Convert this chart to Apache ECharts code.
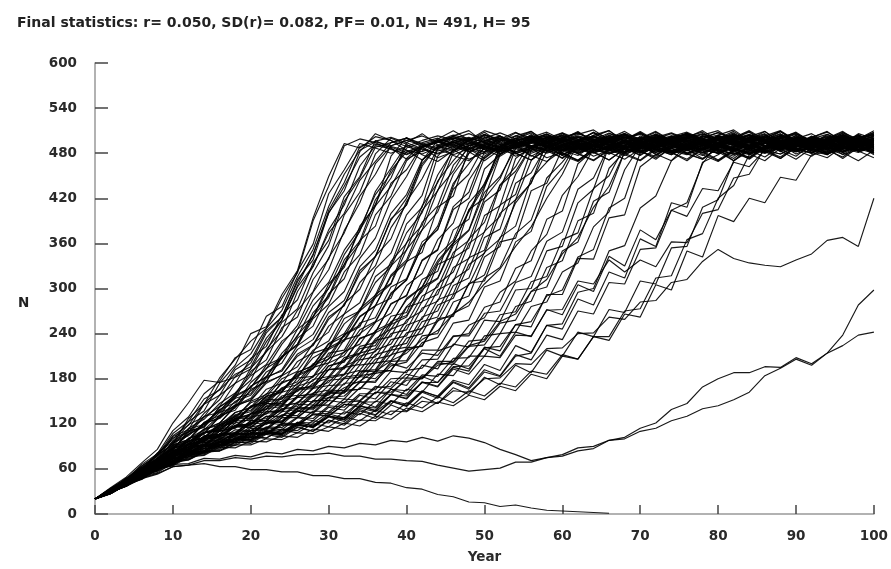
<!DOCTYPE html>
<html>
<head>
<meta charset="utf-8">
<script src="https://cdn.jsdelivr.net/npm/echarts@6/dist/echarts.min.js"></script>
<style>
html,body{margin:0;padding:0;background:#fff;}
#chart{width:891px;height:569px;}
</style>
</head>
<body>
<div id="chart"></div>
<script>
const titleText = "Final statistics: r= 0.050, SD(r)= 0.082, PF= 0.01, N= 491, H= 95";
const xName = "Year";
const yName = "N";

const years = [0,2,4,6,8,10,12,14,16,18,20,22,24,26,28,30,32,34,36,38,40,42,44,46,48,50,
  52,54,56,58,60,62,64,66,68,70,72,74,76,78,80,82,84,86,88,90,92,94,96,98,100];

// runs reaching the ceiling early (about years 32-42)
const runsFast = [
[20,31,47,58,81,99,123,137,174,198, 240,249,292,324,394,449,493,487,502,497, 489,482,491,499,506,498,488,480,486,495, 501,494,487,492,500,505,496,484,479,489, 497,503,495,486,490,499,493,481,488,496, 502],
[20,29,45,56,77,93,127,146,181,206, 230,247,287,321,390,436,490,499,494,485, 479,488,497,504,499,490,484,493,501,508, 498,487,481,490,496,492,485,478,487,495, 503,497,489,494,500,486,480,491,498,492, 488],
[20,32,43,59,70,97,109,134,152,183, 201,241,262,309,344,404,441,489,496,501, 494,486,479,485,493,500,507,499,490,483, 488,496,502,495,487,481,490,498,504,497, 489,484,478,487,494,501,496,488,493,499, 505],
[20,34,46,66,80,111,129,160,177,208, 219,263,276,323,359,426,458,493,487,480, 489,497,503,498,491,485,492,500,496,488, 479,486,494,506,501,492,484,490,497,493, 485,478,488,496,503,499,490,486,494,500, 491],
[20,29,43,54,72,86,109,117,142,158, 194,216,255,273,321,357,416,447,488,494, 500,492,485,478,486,495,502,496,489,494, 501,507,498,489,483,490,497,492,486,480, 488,495,501,497,490,484,492,499,504,496, 489],
[20,30,39,54,66,89,98,121,137,160, 178,219,244,296,329,378,411,463,490,486, 478,487,495,500,493,487,482,490,499,505, 497,491,485,494,502,496,488,481,489,498, 493,486,479,488,496,503,498,491,485,492, 499],
[20,32,44,60,72,95,106,129,143,174, 186,216,236,271,296,341,374,423,452,490, 497,491,483,489,496,504,499,492,486,480, 487,495,501,496,490,484,491,499,506,500, 492,486,482,489,497,493,487,494,501,496, 490],
[20,28,40,51,68,78,100,112,131,145, 175,193,226,251,295,325,377,414,466,489, 484,479,488,496,501,494,487,492,499,505, 497,490,483,488,495,500,493,486,480,487, 494,502,498,491,485,490,496,503,497,489, 483],
[20,31,46,59,78,94,114,126,147,161, 184,199,230,246,285,308,351,380,425,453, 487,494,500,492,485,479,488,496,503,498, 491,486,493,500,506,497,489,483,490,497, 501,495,488,481,487,494,499,493,486,491, 498],
[20,29,43,54,70,82,100,108,129,141, 170,183,214,236,277,300,345,376,429,460, 491,485,480,489,497,502,495,488,494,500, 507,499,490,484,479,486,493,498,491,485, 490,497,504,496,489,483,488,495,501,494, 487],
[20,34,46,64,78,107,123,153,165,186, 196,234,258,302,330,374,400,444,469,494, 500,493,486,491,498,505,497,489,482,488, 495,501,494,487,481,490,497,503,498,490, 484,479,487,494,500,495,489,486,493,499, 504],
[20,35,49,68,86,121,148,178,175,182, 193,229,258,304,346,400,436,475,492,488, 481,489,496,502,497,490,484,479,487,494, 500,506,499,491,486,492,498,494,487,481, 489,496,503,497,490,485,491,498,494,488, 482],
[20,33,45,63,77,104,118,147,166,195, 213,247,271,316,352,409,452,484,495,490, 497,503,495,488,482,490,498,494,487,493, 499,492,485,479,486,494,501,507,499,491, 486,493,499,495,488,482,489,496,502,497, 493],
[20,30,45,55,74,88,106,119,138,156, 168,194,207,238,262,301,332,378,412,457, 482,490,496,491,485,493,500,496,490,484, 478,486,495,501,497,489,494,502,508,499, 493,487,481,488,495,491,486,494,500,496, 490],
[20,33,41,62,73,103,112,146,158,192, 205,244,262,312,338,401,430,482,506,497, 484,471,488,503,510,494,479,490,501,486, 473,489,498,507,495,482,476,491,504,498, 485,470,483,497,509,496,487,479,492,502, 495],
[20,30,46,53,75,85,111,115,143,154, 190,205,248,262,312,339,398,428,479,500, 492,478,469,484,498,510,503,489,476,487, 499,508,496,481,472,486,500,493,480,491, 504,511,497,484,475,489,498,486,473,488, 500],
[20,31,42,58,69,91,99,122,131,158, 168,198,208,246,262,306,328,383,410,476, 501,488,474,482,497,508,494,480,471,485, 496,505,511,498,486,478,490,502,493,481, 470,484,499,506,492,479,488,500,509,496, 483],
[20,28,44,51,70,79,101,106,131,138, 166,176,210,226,268,290,338,363,418,447, 494,506,491,477,470,486,499,508,497,483, 474,488,502,510,495,482,490,503,492,478, 469,483,497,505,493,486,480,494,507,499, 487],
[20,32,48,60,81,96,119,129,158,174, 207,223,265,285,334,364,422,449,497,487, 472,483,499,510,498,485,476,489,503,495, 481,470,486,500,509,497,484,492,505,494, 479,488,501,496,483,472,487,499,508,492, 480],
[20,30,40,55,64,83,89,108,114,135, 142,166,174,203,215,250,266,308,330,381, 412,470,497,485,472,481,496,507,500,488, 477,491,504,510,496,483,474,487,501,493, 482,470,486,498,506,495,481,490,503,497, 484]
];

// runs reaching the ceiling around years 42-52
const runsMid = [
[20,31,41,56,66,87,94,113,121,144, 154,181,192,224,239,276,296,340,367,418, 449,489,495,490,483,488,496,503,497,490, 485,480,488,495,501,496,489,493,500,506, 498,491,485,489,496,492,486,480,487,494, 499],
[20,30,45,57,74,88,106,116,135,143, 164,177,208,226,263,288,332,360,410,436, 473,492,498,494,487,481,489,497,503,496, 490,485,492,499,495,488,482,486,494,501, 507,500,493,487,490,497,492,485,479,488, 495],
[20,28,41,51,66,76,92,100,119,127, 150,159,184,196,227,242,280,299,343,366, 416,446,487,493,499,495,488,482,490,498, 504,497,490,485,491,496,489,483,478,486, 494,500,496,489,493,501,495,487,492,498, 491],
[20,33,45,62,74,94,104,121,127,145, 151,174,185,210,224,259,278,320,343,391, 420,466,489,484,490,497,503,495,488,492, 499,494,486,480,487,495,500,493,489,496, 502,497,490,484,479,488,495,491,486,493, 500],
[20,29,42,52,67,78,94,102,119,125, 143,151,174,183,208,220,253,270,308,329, 374,401,451,484,490,496,502,494,487,481, 489,497,493,486,491,499,505,498,490,485, 480,488,496,501,494,489,493,499,496,487, 483],
[20,29,37,51,61,76,84,98,106,125, 133,154,162,188,198,227,240,273,291,336, 360,410,441,487,494,489,482,488,495,500, 494,487,481,486,493,500,497,491,485,490, 498,503,496,489,484,491,497,493,487,481, 489],
[20,32,42,57,68,88,96,113,118,135, 141,160,165,186,194,221,232,263,277,316, 335,378,402,452,480,492,498,490,484,490, 496,503,498,491,486,480,487,494,500,495, 489,484,491,498,505,497,490,486,493,499, 494],
[20,30,44,54,70,78,92,98,115,123, 143,149,168,176,200,210,239,251,288,306, 352,378,431,456,491,486,480,488,495,501, 496,489,483,490,497,493,486,481,488,495, 502,498,491,485,492,499,495,488,483,490, 497],
[20,28,41,50,64,74,90,96,110,115, 133,139,157,163,184,192,216,226,255,267, 304,320,365,387,444,476,490,496,501,494, 487,481,489,497,492,486,493,500,506,498, 491,485,480,488,495,499,493,487,494,500, 496],
[20,33,45,61,73,90,96,108,112,127, 133,149,153,174,182,207,215,245,256,294, 311,357,379,432,452,490,485,491,498,503, 495,488,483,490,496,492,486,480,488,495, 501,497,490,485,492,498,494,487,481,489, 496],
[20,30,40,54,65,84,92,111,121,143, 152,176,184,213,225,262,277,324,342,393, 411,463,490,495,488,482,490,497,502,495, 489,484,491,498,504,497,490,486,492,499, 493,487,480,486,494,500,496,490,485,491, 498],
[20,34,47,64,78,101,109,130,135,154, 160,189,201,234,250,293,313,364,383,440, 458,490,496,502,495,488,483,490,497,493, 486,480,487,495,500,506,498,491,486,493, 499,494,488,482,489,496,501,497,490,485, 492],
[20,30,45,55,72,82,97,101,118,123, 142,146,167,172,198,206,238,249,292,307, 361,384,443,470,493,488,482,489,496,501, 497,490,485,479,487,494,499,495,489,484, 491,498,504,496,490,486,493,500,494,488, 481],
[20,27,39,48,62,70,87,92,110,116, 134,140,162,168,195,201,232,238,277,287, 336,348,408,423,486,493,488,481,487,495, 500,494,489,483,490,498,504,497,491,486, 480,488,495,501,495,489,493,499,492,487, 494],
[20,31,41,56,64,82,85,104,106,125, 124,143,145,166,171,197,204,233,242,279, 291,337,351,405,420,474,489,495,490,484, 491,498,503,496,489,483,488,495,500,492, 486,479,487,494,499,493,487,492,498,503, 496],
[20,32,43,60,71,92,99,120,128,150, 158,183,190,219,232,268,284,329,351,400, 425,471,488,494,500,495,487,482,489,497, 503,498,491,485,481,488,496,492,486,493, 500,505,497,490,484,491,498,494,488,483, 490],
[20,31,42,55,70,84,93,108,112,131, 136,157,163,189,197,226,236,270,288,330, 351,404,430,481,490,497,492,486,480,487, 494,501,497,490,485,492,499,506,498,491, 487,493,500,495,489,482,488,496,502,497, 490],
[20,29,40,53,63,79,86,99,104,121, 126,144,150,170,177,201,211,240,255,292, 312,356,383,440,466,492,486,493,499,494, 488,483,490,496,503,497,491,486,480,487, 494,500,496,489,485,492,498,493,487,490, 497],
[20,32,47,58,79,91,113,119,139,148, 170,182,210,224,260,279,322,345,398,423, 470,488,494,500,496,489,484,490,497,503, 498,492,486,481,488,495,501,494,489,485, 492,499,505,498,491,486,481,489,496,493, 487],
[20,30,43,53,68,77,92,97,111,114, 129,133,150,155,174,181,205,213,241,252, 287,302,344,364,414,438,488,495,489,483, 490,497,502,495,488,493,499,494,487,481, 489,496,501,497,491,485,492,498,504,496, 490],
[20,29,43,50,68,75,94,96,117,121, 144,148,176,181,214,221,260,270,316,332, 386,408,476,498,486,473,489,503,509,494, 480,471,485,499,506,492,478,488,501,510, 497,483,474,490,504,496,485,479,493,505, 491],
[20,31,40,56,63,82,86,104,106,127, 128,152,153,181,183,214,218,254,261,302, 313,362,378,436,480,501,489,476,484,498, 507,495,482,471,486,500,509,497,484,490, 503,492,479,470,487,499,506,494,481,489, 502],
[20,28,38,49,59,73,80,95,99,117, 120,140,143,166,170,197,202,234,241,280, 290,338,352,409,428,482,503,491,477,469, 484,498,507,496,481,490,504,493,479,472, 488,501,510,498,485,476,492,505,497,483, 474],
[20,33,44,61,70,88,92,109,110,128, 127,147,147,168,168,192,193,220,224,256, 264,302,314,360,378,434,489,500,486,474, 481,495,508,499,487,477,490,502,496,483, 471,485,498,509,494,482,488,500,506,491, 478],
[20,30,43,54,70,80,97,102,121,129, 148,156,180,190,218,230,266,281,326,347, 398,424,486,496,482,470,485,500,509,495, 484,477,491,504,497,483,472,488,502,508, 493,480,473,489,503,496,486,478,492,506, 499],
[20,29,37,51,58,72,76,90,91,106, 105,122,122,141,141,163,164,190,192,222, 227,262,270,312,326,376,396,452,488,502, 494,480,471,485,498,507,496,483,490,504, 510,497,484,475,489,501,493,479,486,499, 508],
[20,32,45,59,73,86,96,108,116,132, 138,156,163,184,193,219,230,262,277,318, 338,388,410,464,487,505,492,480,471,486, 499,509,495,484,477,490,503,497,485,473, 487,500,508,494,482,489,502,496,481,470, 484],
[20,27,40,47,61,68,83,87,101,105, 121,125,143,148,168,175,197,206,233,246, 276,296,334,360,404,440,483,499,507,493, 479,470,486,498,505,494,481,489,502,497, 484,473,488,500,509,496,483,478,492,504, 496],
[20,31,42,55,65,80,86,100,103,118, 120,136,138,157,160,181,185,210,216,246, 254,290,302,348,364,420,446,492,505,490, 477,469,483,496,506,499,486,478,491,503, 497,484,472,487,500,508,495,482,490,502, 488]
];

// runs reaching the ceiling around years 52-62
const runsSlow = [
[20,28,40,49,63,70,85,90,104,107, 124,127,145,147,167,171,195,199,231,236, 275,282,332,342,405,420,478,490,496,491, 485,489,496,502,497,490,484,480,487,494, 500,495,489,493,499,505,497,490,486,492, 488],
[20,32,42,58,66,83,88,101,103,118, 119,134,136,155,156,178,180,205,209,240, 245,283,292,341,354,415,431,486,494,489, 483,490,497,492,486,493,501,496,489,484, 480,487,494,499,493,488,495,502,497,491, 485],
[20,29,42,50,66,74,89,92,105,106, 120,121,136,139,157,158,180,182,206,211, 241,247,285,293,341,351,411,425,484,491, 497,502,495,488,482,489,496,491,485,492, 499,504,496,490,486,493,500,494,488,483, 490],
[20,27,39,47,60,66,80,84,97,99, 111,113,128,129,144,145,163,166,187,191, 218,224,257,266,306,318,368,383,446,468, 492,497,491,486,480,488,495,501,496,490, 485,491,498,503,497,489,484,490,496,493, 499],
[20,33,43,58,66,81,84,95,96,107, 108,121,123,138,139,155,157,175,177,197, 202,228,235,267,277,314,328,373,391,447, 468,494,489,483,490,497,502,495,488,493, 499,494,487,481,488,495,500,496,490,485, 492],
[20,31,41,56,64,83,89,108,112,130, 130,147,145,165,167,192,195,223,228,263, 268,312,323,378,392,459,478,494,489,483, 490,497,503,496,490,485,492,498,494,487, 481,488,495,501,496,490,486,493,499,494, 489],
[20,28,41,49,64,71,87,91,107,108, 124,124,140,140,159,160,182,185,212,218, 251,259,298,309,360,375,437,456,489,495, 490,484,491,498,493,487,481,488,496,502, 497,491,486,493,500,495,489,484,490,497, 503],
[20,32,43,59,68,85,89,103,104,116, 115,130,130,149,150,171,172,198,201,232, 237,274,283,328,340,397,410,473,489,495, 488,482,489,496,501,494,488,492,499,505, 497,491,485,480,487,494,500,496,489,484, 491],
[20,28,40,48,61,66,79,81,95,97, 111,112,128,128,145,145,165,166,190,191, 221,223,260,263,307,310,362,367,430,440, 486,493,499,494,487,482,489,496,502,497, 490,485,491,498,493,487,480,488,495,500, 494],
[20,31,41,57,66,83,87,102,102,117, 116,130,129,146,145,165,164,189,190,218, 222,256,262,304,314,368,379,440,454,490, 484,491,497,503,496,490,485,480,487,494, 499,495,489,493,500,506,497,491,486,492, 488],
[20,30,44,53,69,77,93,97,113,117, 133,136,155,158,179,183,208,214,244,254, 285,302,337,361,402,436,479,490,495,489, 483,488,495,500,494,488,492,499,505,498, 491,485,480,487,494,489,496,501,495,490, 484],
[20,29,39,51,60,74,79,93,95,109, 110,124,124,141,141,160,161,184,187,212, 218,248,256,292,305,348,366,414,441,483, 492,487,481,488,495,500,494,488,493,499, 504,497,490,484,490,497,493,487,482,489, 495],
[20,31,40,55,63,80,84,100,101,117, 118,136,137,157,159,183,186,214,220,252, 262,299,313,357,377,428,449,487,493,498, 492,486,480,487,494,499,495,489,484,491, 498,503,497,490,485,492,488,495,501,494, 487],
[20,30,39,53,60,75,78,92,92,107, 105,121,119,137,135,155,153,176,175,203, 204,237,240,282,290,342,356,418,440,496, 503,489,476,484,497,508,495,481,472,487, 500,509,496,483,490,504,492,479,486,498, 506],
[20,28,41,47,62,67,82,84,99,99, 114,114,131,131,151,151,174,175,201,204, 234,240,278,287,332,347,400,418,470,493, 506,494,481,471,486,499,508,496,484,477, 491,503,497,485,473,488,501,509,494,482, 489],
[20,32,43,58,66,81,85,98,99,112, 111,124,122,137,134,151,148,168,165,190, 188,218,218,254,258,302,310,362,376,436, 460,497,508,493,480,471,487,500,506,495, 483,476,490,503,510,497,484,491,505,498, 486],
[20,29,41,50,63,70,84,87,100,103, 116,119,132,136,149,155,168,177,190,204, 214,232,244,266,282,306,326,356,382,420, 452,494,503,490,478,470,485,498,507,496, 482,489,502,509,495,484,476,490,501,493, 480],
[20,31,40,56,62,78,80,92,91,104, 101,115,112,128,124,142,138,158,153,176, 171,198,193,226,222,258,256,298,300,350, 356,414,432,490,504,493,479,470,485,499, 508,497,483,488,502,495,481,474,489,500, 507],
[20,30,44,52,68,74,90,92,106,108, 122,124,140,143,161,165,186,191,218,226, 258,270,306,322,366,388,438,462,497,506, 492,479,470,484,498,509,497,483,490,503, 495,481,475,488,501,507,493,480,486,499, 510]
];

// runs reaching the ceiling late (about years 64-94)
const runsLate = [
[20,27,39,47,60,66,79,82,93,95, 106,106,118,119,133,134,149,150,168,170, 191,194,217,224,251,261,295,310,350,372, 424,449,486,494,489,483,490,497,502,495, 488,493,500,494,487,482,489,496,501,497, 491],
[20,32,42,57,64,79,82,93,94,104, 103,116,115,129,127,144,142,160,160,180, 181,205,206,236,240,275,282,327,337,392, 403,466,484,490,496,501,494,488,483,490, 497,492,486,480,488,495,500,494,489,493, 499],
[20,28,41,48,62,68,81,83,95,95, 108,106,120,117,133,130,146,142,162,159, 181,180,203,203,230,232,265,269,309,316, 365,374,433,450,490,494,488,482,489,496, 502,497,491,486,492,499,494,488,483,490, 497],
[20,31,40,54,60,73,76,87,88,99, 99,110,108,122,121,135,133,149,149,166, 164,185,183,207,208,237,240,276,283,328, 337,390,400,460,482,492,487,481,488,495, 501,496,490,485,491,498,494,487,493,500, 505],
[20,29,37,50,55,68,72,83,84,95, 96,107,106,118,116,130,128,143,141,159, 157,175,175,196,197,221,223,252,256,290, 298,342,352,407,420,481,490,497,491,485, 492,498,504,496,489,484,490,497,493,486, 480],
[20,33,44,60,68,83,86,97,97,107, 107,122,122,141,141,162,161,183,180,200, 194,214,211,237,237,267,270,308,316,363, 375,432,447,490,486,481,488,495,500,494, 488,483,490,497,503,496,490,486,493,499, 494],
[20,28,41,49,63,68,81,83,97,97, 108,107,121,120,137,136,153,151,170,167, 186,181,201,199,223,225,254,258,296,302, 350,362,416,428,482,488,494,500,495,488, 483,489,496,501,497,490,485,492,499,494, 488],
[20,31,40,54,60,75,78,90,90,101, 102,112,110,121,118,130,126,141,136,151, 146,164,156,175,166,189,183,210,214,251, 253,295,300,350,357,407,423,470,491,496, 489,483,490,497,503,495,488,493,500,494, 487],
[20,27,39,46,60,64,76,78,89,88, 97,96,104,102,113,110,121,117,130,126, 141,136,149,144,158,152,170,164,186,180, 210,206,236,236,270,273,314,317,365,373, 420,437,478,488,495,500,493,487,482,490, 497],
[20,32,41,56,62,77,80,91,92,100, 99,110,106,118,116,130,126,144,138,159, 154,175,169,193,186,210,208,238,237,271, 272,310,306,338,322,338,329,362,361,400, 405,447,452,487,492,499,494,488,483,491, 498],
[20,28,42,48,62,66,80,80,92,93, 104,101,112,108,120,116,129,124,138,132, 148,141,156,148,164,157,174,169,190,186, 212,206,236,231,266,262,305,298,350,342, 397,389,420,414,448,444,478,482,491,498, 486],
[20,31,40,55,60,74,76,89,88,101, 98,110,106,122,117,133,128,150,142,166, 159,183,175,200,193,220,210,242,236,272, 265,305,296,343,330,378,365,404,396,433, 430,468,462,484,479,490,497,484,496,503, 492],
[20,30,38,52,58,71,74,87,86,99, 97,108,106,120,115,130,125,144,137,159, 153,176,170,195,190,222,217,252,249,292, 292,340,339,394,398,462,478,492,497,490, 484,489,496,503,497,491,486,493,500,494, 489],
[20,33,43,59,66,80,82,92,92,100, 99,108,104,116,110,125,120,137,131,150, 144,163,157,178,172,199,191,224,215,251, 246,286,278,322,314,366,356,414,408,468, 478,491,497,490,485,492,499,505,496,489, 494],
[20,28,40,47,60,65,78,79,91,91, 102,101,113,111,124,121,136,132,150,146, 166,162,186,184,210,210,240,242,276,282, 322,334,382,402,458,490,506,494,480,472, 487,500,509,496,484,491,503,492,478,485, 498],
[20,32,41,57,63,78,80,91,90,102, 99,111,107,120,115,129,123,139,132,150, 143,162,154,176,168,192,184,212,205,238, 232,270,266,308,306,352,354,404,414,466, 494,506,495,482,473,488,501,508,497,484, 490],
[20,29,38,51,57,70,73,85,84,96, 94,106,102,115,110,124,118,134,127,145, 137,156,147,168,159,182,172,198,188,218, 210,242,236,272,268,310,306,354,356,408, 418,470,486,501,509,496,483,490,504,495, 481],
[20,30,42,50,64,69,82,84,96,97, 108,108,120,119,132,131,146,145,162,162, 178,180,198,202,224,230,256,266,296,312, 346,368,408,436,482,503,495,481,470,486, 499,507,494,482,489,502,496,484,475,490, 504]
];

// runs that never reached the ceiling (null = extinct, not drawn)
const runsLow = [
[20,31,40,52,59,70,72,82,84,92, 92,100,99,108,107,116,113,125,124,137, 136,150,147,164,162,180,181,200,199,220, 221,240,241,262,259,282,284,308,312,336, 352,340,334,331,329,338,346,364,368,356, 420],
[20,30,39,51,57,66,67,74,73,78, 76,82,80,86,84,90,88,94,92,98, 96,102,97,104,101,95,86,79,71,75, 77,84,87,98,102,114,121,139,147,169, 180,188,188,196,195,208,200,214,238,278, 298],
[20,29,37,48,54,63,65,71,71,75, 73,77,76,79,79,81,77,77,73,73, 71,70,65,61,57,59,61,69,69,75, 79,88,90,98,100,110,114,124,130,140, 144,152,162,184,194,206,198,214,224,238, 242],
[20,30,37,47,53,63,65,67,63,63, 59,59,56,56,51,51,47,47,42,41, 35,33,26,23,16,15,10,12,8,5, 4,3,2,1,null,null,null,null,null,null, null,null,null,null,null,null,null,null,null,null, null]
];

const allRuns = [].concat(runsFast, runsMid, runsSlow, runsLate, runsLow);

const series = allRuns.map(run => ({
  type: 'line',
  data: years.map((yr, i) => [yr, run[i] === undefined ? null : run[i]]),
  showSymbol: false,
  symbol: 'none',
  connectNulls: false,
  silent: true,
  animation: false,
  lineStyle: { color: '#000', width: 1.15, opacity: 0.9 }
}));

const labelFont = { fontFamily: 'DejaVu Sans', fontWeight: 'bold', fontSize: 13.5, color: '#2a2a2a' };

const chart = echarts.init(document.getElementById('chart'), null, { renderer: 'canvas' });
chart.setOption({
  backgroundColor: '#fff',
  animation: false,
  title: {
    text: titleText,
    left: 12, top: 11,
    textStyle: { fontFamily: 'DejaVu Sans', fontWeight: 'bold', fontSize: 14, color: '#222' }
  },
  grid: { left: 95, right: 15, top: 63, bottom: 53, containLabel: false },
  xAxis: {
    type: 'value', min: 0, max: 100, interval: 10,
    name: xName, nameLocation: 'middle', nameGap: 36,
    nameTextStyle: labelFont,
    axisLine: { show: true, lineStyle: { color: '#999', width: 1.5 } },
    axisTick: { show: true, inside: true, length: 9, lineStyle: { color: '#444', width: 1.5 } },
    axisLabel: Object.assign({ margin: 15 }, labelFont),
    splitLine: { show: false }
  },
  yAxis: {
    type: 'value', min: 0, max: 600, interval: 60,
    axisLine: { show: true, lineStyle: { color: '#999', width: 1.5 } },
    axisTick: { show: true, inside: true, length: 13, lineStyle: { color: '#444', width: 1.5 } },
    axisLabel: Object.assign({ margin: 18 }, labelFont),
    splitLine: { show: false }
  },
  graphic: [{
    type: 'text', left: 18, top: 296,
    style: { text: yName, font: 'bold 13.5px "DejaVu Sans"', fill: '#222' }
  }],
  series: series
});
</script>
</body>
</html>
